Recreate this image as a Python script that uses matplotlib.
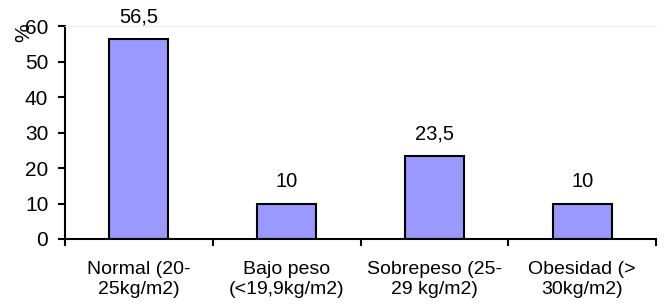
import numpy as np
import matplotlib.pyplot as plt

plt.rcParams['font.family'] = ['Liberation Sans', 'DejaVu Sans']

categories = ['Normal (20-\n25kg/m2)', 'Bajo peso\n(<19,9kg/m2)',
              'Sobrepeso (25-\n29 kg/m2)', 'Obesidad (>\n30kg/m2)']
values = [56.5, 10, 23.5, 10]
value_labels = ['56,5', '10', '23,5', '10']

fig = plt.figure(figsize=(6.66, 3.07), dpi=100)
ax = fig.add_axes([0.0976, 0.2215, 0.8874, 0.6935])

x = np.arange(len(categories))
ax.bar(x, values, width=0.4, color='#9999FF', edgecolor='black', linewidth=1.5)

for xi, v, lab in zip(x, values, value_labels):
    ax.annotate(lab, (xi, v), xytext=(0, 9), textcoords='offset points',
                ha='center', va='bottom', fontsize=14.5)

ax.set_xlim(-0.5, len(categories) - 0.5)
ax.set_ylim(0, 60)
ax.set_yticks([0, 10, 20, 30, 40, 50, 60])
ax.tick_params(axis='y', labelsize=15, length=5, width=1.5, direction='out', pad=7)

# ticks at category boundaries, labels at centres
ax.set_xticks(np.arange(-0.5, len(categories)))
ax.set_xticklabels([])
ax.set_xticks(x, minor=True)
ax.set_xticklabels(categories, minor=True, fontsize=14, linespacing=1.25)
ax.tick_params(axis='x', which='major', length=5, width=1.5, direction='out')
ax.tick_params(axis='x', which='minor', length=0, pad=16)

ax.spines['right'].set_visible(False)
ax.spines['top'].set_color('#eeeeee')
ax.spines['left'].set_linewidth(1.5)
ax.spines['bottom'].set_linewidth(1.5)

fig.text(0.036, 0.895, '%', rotation=90, fontsize=15, ha='center', va='center')

fig.savefig('out.png', dpi=100)
